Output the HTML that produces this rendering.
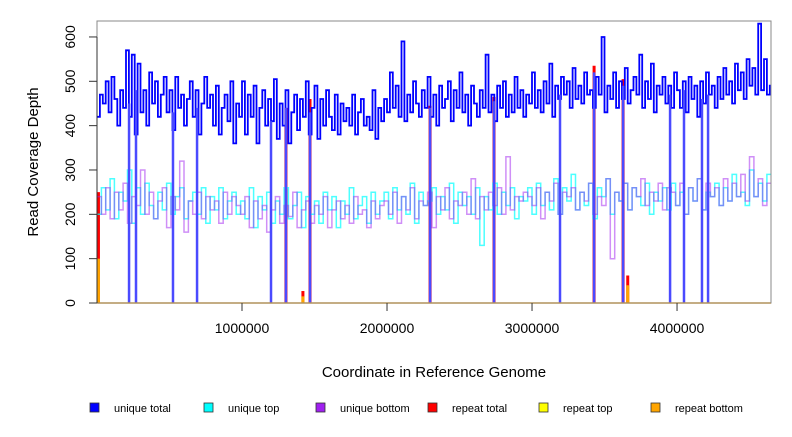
<!DOCTYPE html>
<html><head><meta charset="utf-8"><style>
body{margin:0;background:#fff;}
svg text{font-family:"Liberation Sans",Arial,sans-serif;}
</style></head><body>
<svg id="chart" width="792" height="432" xmlns="http://www.w3.org/2000/svg">
<g id="plot"></g>
<rect x="97" y="21" width="674" height="282" fill="none" stroke="#888" stroke-width="1"/>
<g id="axes"></g>
<text x="434" y="377" font-size="15" text-anchor="middle">Coordinate in Reference Genome</text>
<text transform="translate(38,162) rotate(-90)" font-size="15" text-anchor="middle">Read Coverage Depth</text>
<g id="legend"></g>
</svg>
<script>
const BIN_TOTAL = 20000;
const BIN_STRAND = 30000;
const uniqueTotal = [420,470,450,500,430,510,460,400,480,440,570,420,560,380,540,430,480,400,520,450,500,420,470,510,430,480,390,510,440,470,400,460,500,420,480,380,450,510,440,470,400,490,380,440,470,410,500,360,450,420,
500,380,470,420,490,360,440,480,400,460,410,505,370,450,400,480,360,430,470,390,460,420,500,380,440,490,370,460,400,480,420,390,470,380,450,410,440,400,470,380,430,460,400,420,390,480,370,440,410,460,
430,520,440,490,420,590,410,470,430,500,450,420,480,440,510,420,470,400,490,440,460,500,410,480,440,520,430,470,400,490,450,420,480,440,560,430,470,410,490,440,500,420,470,430,510,440,480,420,470,450,
520,440,480,430,500,450,540,420,490,460,510,470,500,440,530,460,490,450,520,470,480,440,510,470,600,430,490,460,520,440,500,460,530,450,480,510,470,560,440,500,460,540,430,490,470,510,450,490,440,520,
480,440,500,430,510,460,490,420,500,450,520,470,490,440,510,460,530,470,500,450,540,480,520,460,550,490,530,470,630,480,550,470,490];
const uniqueTop = [200,260,210,280,190,250,230,300,180,260,200,270,220,190,250,210,270,200,240,260,190,230,250,200,260,180,240,210,260,190,230,250,200,
230,190,260,170,240,210,250,180,230,200,260,190,220,250,170,240,200,230,180,250,210,240,170,230,200,260,190,220,240,180,250,200,230,
250,190,260,210,240,200,270,180,250,220,230,260,200,240,210,270,180,250,220,240,200,260,130,240,210,270,200,250,220,260,190,240,230,
260,200,270,220,250,210,280,200,260,230,290,210,250,220,270,190,260,240,280,200,250,230,270,210,260,240,220,270,200,250,230,260,210,
270,220,250,200,260,230,280,210,250,240,270,220,260,230,290,240,250,220,300,240,270,230,290];
const uniqueBottom = [240,200,260,190,250,210,270,180,240,220,300,200,250,190,230,260,170,240,210,320,160,230,200,250,190,240,210,230,180,250,200,240,220,
200,240,170,230,190,220,160,210,240,180,220,195,250,170,210,230,180,220,200,240,170,210,230,190,220,180,240,200,210,170,230,190,220,
230,200,250,180,240,210,260,190,230,220,250,170,240,210,260,190,230,220,250,200,280,190,240,210,250,220,260,200,330,210,240,230,250,
240,220,260,190,250,230,270,200,250,240,260,210,250,230,270,200,240,220,280,100,250,230,270,210,260,240,280,220,250,230,270,210,260,
250,220,270,200,260,230,280,210,270,240,260,220,280,230,270,240,290,230,330,240,280,220,270];
const dropPositions = [221000,269000,524000,690000,1200000,1303000,1469000,2297000,2738000,3193000,3428000,3628000,3952000,4048000,4172000,4214000];
const dropTops = [450,480,430,440,410,440,430,440,455,470,520,490,470,480,460,470];
const repeatTotalPos = [10000,1303000,1420000,1469000,2297000,2738000,3428000,3628000,3660000];
const repeatTotalVal = [250,440,27,460,445,465,535,505,62];
const repeatBottomPos = [10000,1420000,3660000];
const repeatBottomVal = [100,15,40];
const xTicks = [1000000,2000000,3000000,4000000];
const yTicks = [0,100,200,300,400,500,600];
const legendLabels = ["unique total","unique top","unique bottom","repeat total","repeat top","repeat bottom"];
const legendColors = ["#0000ff","#00ffff","#a020f0","#ff0000","#ffff00","#ffa500"];

const X0=97,X1=771,Y0=303,Y1=21,XMAX=4648000,YMAX=636;
const sx=v=>X0+v/XMAX*(X1-X0);
const sy=v=>Y0-v/YMAX*(Y0-Y1);
const NS="http://www.w3.org/2000/svg";
const plot=document.getElementById('plot');
function mk(tag,attrs,parent){const e=document.createElementNS(NS,tag);for(const k in attrs)e.setAttribute(k,attrs[k]);parent.appendChild(e);return e;}
function stepPath(arr,bin){let d="";arr.forEach((v,i)=>{const xa=sx(i*bin),xb=sx(Math.min((i+1)*bin,XMAX));d+=(i?"L":"M")+xa.toFixed(1)+","+sy(v).toFixed(1)+"L"+xb.toFixed(1)+","+sy(v).toFixed(1);});return d;}

repeatTotalPos.forEach((p,i)=>{
  const l=mk('line',{x1:sx(p),x2:sx(p),y1:sy(0),y2:sy(repeatTotalVal[i]),stroke:'#ff0000','stroke-width':3},plot);
  
  
});
const pt=mk('path',{d:stepPath(uniqueTotal,BIN_TOTAL),fill:'none',stroke:'#0000ff','stroke-width':1.8},plot);


const pTop=mk('path',{d:stepPath(uniqueTop,BIN_STRAND),fill:'none',stroke:'#00ffff','stroke-opacity':0.7,'stroke-width':1.5},plot);


const pBot=mk('path',{d:stepPath(uniqueBottom,BIN_STRAND),fill:'none',stroke:'#a020f0','stroke-opacity':0.5,'stroke-width':1.5},plot);


dropPositions.forEach((p,i)=>{
  const l=mk('line',{x1:sx(p),x2:sx(p),y1:sy(0),y2:sy(dropTops[i]),stroke:'#4a4aff','stroke-width':2.5},plot);
  
  
});
const base=mk('line',{x1:X0,x2:X1,y1:sy(0),y2:sy(0),stroke:'#ffa500','stroke-width':1.5},plot);


repeatBottomPos.forEach((p,i)=>{
  const l=mk('line',{x1:sx(p),x2:sx(p),y1:sy(0),y2:sy(repeatBottomVal[i]),stroke:'#ffa500','stroke-width':3},plot);
  
  
});

const axes=document.getElementById('axes');
xTicks.forEach(t=>{
  const l=mk('line',{x1:sx(t),x2:sx(t),y1:303,y2:311,stroke:'#333'},axes);
  
  
  const tx=mk('text',{x:sx(t),y:333,'font-size':14,'text-anchor':'middle'},axes);
  tx.textContent=t;
  
  
});
yTicks.forEach(t=>{
  const l=mk('line',{x1:89,x2:97,y1:sy(t),y2:sy(t),stroke:'#333'},axes);
  
  
  const tx=mk('text',{transform:`translate(75,${sy(t)}) rotate(-90)`,'font-size':14,'text-anchor':'middle'},axes);
  tx.textContent=t;
  
  
});
const yl=mk('line',{x1:97,x2:97,y1:sy(0),y2:sy(600),stroke:'#333'},axes);



const lg=document.getElementById('legend');
const lx=[90,204,316,428,539,651];
legendLabels.forEach((lab,i)=>{
  const g=mk('g',{},lg);
  
  
  mk('rect',{x:lx[i],y:403,width:9,height:9,fill:legendColors[i],stroke:'#333','stroke-width':0.8},g);
  const t=mk('text',{x:lx[i]+24,y:412,'font-size':11},g);
  t.textContent=lab;
});
</script>
</body></html>
